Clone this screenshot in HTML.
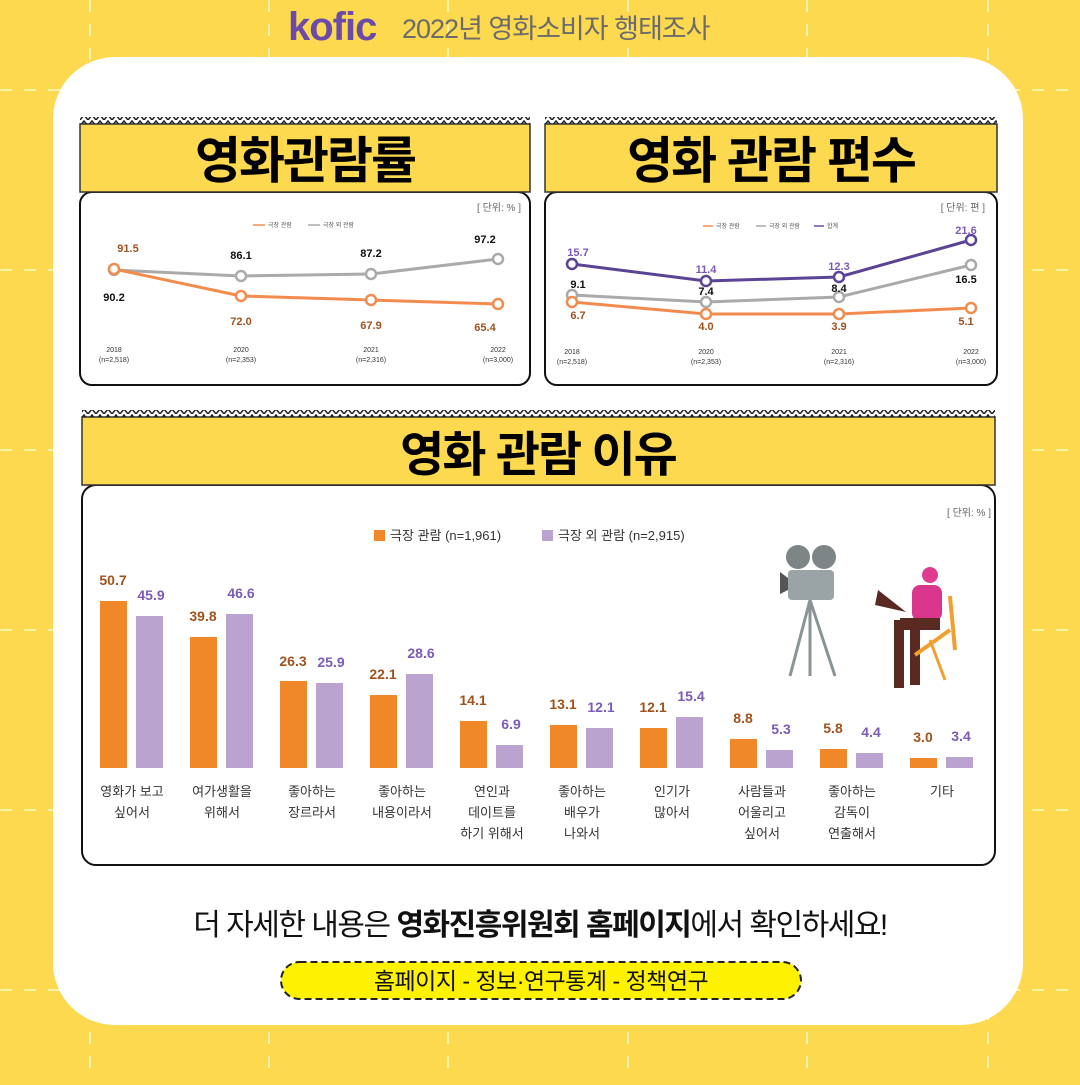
<!DOCTYPE html>
<html><head><meta charset="utf-8"><style>
html,body{margin:0;padding:0}
body{width:1080px;height:1080px;background:#FDD94F;overflow:hidden;font-family:"Liberation Sans","Noto Sans CJK KR",sans-serif}
svg text{font-family:"Liberation Sans","Noto Sans CJK KR",sans-serif}
</style></head><body>
<svg width="1080" height="1080" viewBox="0 0 1080 1080" xmlns="http://www.w3.org/2000/svg">
<defs>
<pattern id="zz" width="8" height="6" patternUnits="userSpaceOnUse"><path d="M0 6 L4 1 L8 6" fill="none" stroke="#222" stroke-width="1.5"/></pattern>
</defs>
<rect width="1080" height="1080" fill="#FDD94F"/>
<g stroke="#FFF3A8" stroke-width="2" stroke-dasharray="12 12">
<line x1="90" y1="0" x2="90" y2="1080"/><line x1="269" y1="0" x2="269" y2="1080"/><line x1="448" y1="0" x2="448" y2="1080"/><line x1="628" y1="0" x2="628" y2="1080"/><line x1="807" y1="0" x2="807" y2="1080"/><line x1="988" y1="0" x2="988" y2="1080"/>
<line x1="0" y1="90" x2="1080" y2="90"/><line x1="0" y1="270" x2="1080" y2="270"/><line x1="0" y1="450" x2="1080" y2="450"/><line x1="0" y1="630" x2="1080" y2="630"/><line x1="0" y1="810" x2="1080" y2="810"/><line x1="0" y1="990" x2="1080" y2="990"/>
</g>
<rect x="53" y="57" width="970" height="968" rx="62" fill="#fff"/>
<text x="288" y="40" font-size="40" font-weight="bold" fill="#6A4CA8" letter-spacing="-1">kofic</text>
<text x="402" y="38" font-size="27" fill="#6b6b6b" letter-spacing="-1">2022년 영화소비자 행태조사</text>

<!-- Panel 1 -->
<rect x="80" y="192" width="450" height="193" rx="12" fill="#fff" stroke="#111" stroke-width="2"/>
<rect x="80" y="124" width="450" height="68" fill="#FDD94F" stroke="#333" stroke-width="1.5"/>
<rect x="80" y="117" width="450" height="7" fill="url(#zz)"/>
<text x="305" y="178" font-size="50" font-weight="bold" text-anchor="middle" fill="#000" letter-spacing="-2">영화관람률</text>
<text x="521" y="211" font-size="10" fill="#666" text-anchor="end">[ 단위: % ]</text>
<g font-size="6" fill="#555"><line x1="253" y1="225" x2="265" y2="225" stroke="#F28C4E" stroke-width="1.5"/><text x="268" y="227">극장 관람</text><line x1="308" y1="225" x2="320" y2="225" stroke="#aaa" stroke-width="1.5"/><text x="323" y="227">극장 외 관람</text></g>
<polyline points="114,270 241,276 371,274 498,259" fill="none" stroke="#aaa" stroke-width="3"/>
<polyline points="114,269 241,296 371,300 498,304" fill="none" stroke="#F28C4E" stroke-width="3"/>
<g fill="#fff" stroke-width="2.5"><circle cx="114" cy="270" r="5" stroke="#aaa"/><circle cx="241" cy="276" r="5" stroke="#aaa"/><circle cx="371" cy="274" r="5" stroke="#aaa"/><circle cx="498" cy="259" r="5" stroke="#aaa"/>
<circle cx="114" cy="269" r="5" stroke="#F28C4E"/><circle cx="241" cy="296" r="5" stroke="#F28C4E"/><circle cx="371" cy="300" r="5" stroke="#F28C4E"/><circle cx="498" cy="304" r="5" stroke="#F28C4E"/></g>
<g font-size="11" font-weight="bold" text-anchor="middle">
<text x="128" y="252" fill="#A0521D">91.5</text><text x="114" y="301" fill="#111">90.2</text>
<text x="241" y="259" fill="#111">86.1</text><text x="241" y="325" fill="#A0521D">72.0</text>
<text x="371" y="257" fill="#111">87.2</text><text x="371" y="329" fill="#A0521D">67.9</text>
<text x="485" y="243" fill="#111">97.2</text><text x="485" y="331" fill="#A0521D">65.4</text></g>
<g font-size="7" fill="#333" text-anchor="middle"><text x="114" y="352">2018</text><text x="114" y="362">(n=2,518)</text><text x="241" y="352">2020</text><text x="241" y="362">(n=2,353)</text><text x="371" y="352">2021</text><text x="371" y="362">(n=2,316)</text><text x="498" y="352">2022</text><text x="498" y="362">(n=3,000)</text></g>

<!-- Panel 2 -->
<rect x="545" y="192" width="452" height="193" rx="12" fill="#fff" stroke="#111" stroke-width="2"/>
<rect x="545" y="124" width="452" height="68" fill="#FDD94F" stroke="#333" stroke-width="1.5"/>
<rect x="545" y="117" width="452" height="7" fill="url(#zz)"/>
<text x="771" y="178" font-size="50" font-weight="bold" text-anchor="middle" fill="#000" letter-spacing="-2">영화 관람 편수</text>
<text x="985" y="211" font-size="10" fill="#666" text-anchor="end">[ 단위: 편 ]</text>
<g font-size="6" fill="#555"><line x1="703" y1="226" x2="713" y2="226" stroke="#F28C4E" stroke-width="1.5"/><text x="716" y="228">극장 관람</text><line x1="756" y1="226" x2="766" y2="226" stroke="#aaa" stroke-width="1.5"/><text x="769" y="228">극장 외 관람</text><line x1="814" y1="226" x2="824" y2="226" stroke="#6A4CA8" stroke-width="1.5"/><text x="827" y="228">합계</text></g>
<polyline points="572,264 706,281 839,277 971,240" fill="none" stroke="#5B4495" stroke-width="3"/>
<polyline points="572,295 706,302 839,297 971,265" fill="none" stroke="#aaa" stroke-width="3"/>
<polyline points="572,302 706,314 839,314 971,308" fill="none" stroke="#F28C4E" stroke-width="3"/>
<g fill="#fff" stroke-width="2.5"><circle cx="572" cy="264" r="5" stroke="#5B4495"/><circle cx="706" cy="281" r="5" stroke="#5B4495"/><circle cx="839" cy="277" r="5" stroke="#5B4495"/><circle cx="971" cy="240" r="5" stroke="#5B4495"/>
<circle cx="572" cy="295" r="5" stroke="#aaa"/><circle cx="706" cy="302" r="5" stroke="#aaa"/><circle cx="839" cy="297" r="5" stroke="#aaa"/><circle cx="971" cy="265" r="5" stroke="#aaa"/>
<circle cx="572" cy="302" r="5" stroke="#F28C4E"/><circle cx="706" cy="314" r="5" stroke="#F28C4E"/><circle cx="839" cy="314" r="5" stroke="#F28C4E"/><circle cx="971" cy="308" r="5" stroke="#F28C4E"/></g>
<g font-size="11" font-weight="bold" text-anchor="middle">
<text x="578" y="256" fill="#7B5BB6">15.7</text><text x="578" y="288" fill="#111">9.1</text><text x="578" y="319" fill="#A0521D">6.7</text>
<text x="706" y="273" fill="#7B5BB6">11.4</text><text x="706" y="295" fill="#111">7.4</text><text x="706" y="330" fill="#A0521D">4.0</text>
<text x="839" y="270" fill="#7B5BB6">12.3</text><text x="839" y="292" fill="#111">8.4</text><text x="839" y="330" fill="#A0521D">3.9</text>
<text x="966" y="234" fill="#7B5BB6">21.6</text><text x="966" y="283" fill="#111">16.5</text><text x="966" y="325" fill="#A0521D">5.1</text></g>
<g font-size="7" fill="#333" text-anchor="middle"><text x="572" y="354">2018</text><text x="572" y="364">(n=2,518)</text><text x="706" y="354">2020</text><text x="706" y="364">(n=2,353)</text><text x="839" y="354">2021</text><text x="839" y="364">(n=2,316)</text><text x="971" y="354">2022</text><text x="971" y="364">(n=3,000)</text></g>

<!-- Panel 3 -->
<rect x="82" y="485" width="913" height="380" rx="14" fill="#fff" stroke="#111" stroke-width="2"/>
<rect x="82" y="417" width="913" height="68" fill="#FDD94F" stroke="#333" stroke-width="1.5"/>
<rect x="82" y="410" width="913" height="7" fill="url(#zz)"/>
<text x="538" y="471" font-size="48" font-weight="bold" text-anchor="middle" fill="#000" letter-spacing="-2">영화 관람 이유</text>
<text x="991" y="516" font-size="10" fill="#666" text-anchor="end">[ 단위: % ]</text>
<rect x="374" y="530" width="11" height="11" fill="#F0882A"/><text x="390" y="540" font-size="13" fill="#333">극장 관람 (n=1,961)</text>
<rect x="542" y="530" width="11" height="11" fill="#BBA3D0"/><text x="558" y="540" font-size="13" fill="#333">극장 외 관람 (n=2,915)</text>
<g id="bars"></g>
<g fill="#F0882A">
<rect x="100" y="601" width="27" height="167"/><rect x="190" y="637" width="27" height="131"/><rect x="280" y="681" width="27" height="87"/><rect x="370" y="695" width="27" height="73"/><rect x="460" y="721" width="27" height="47"/><rect x="550" y="725" width="27" height="43"/><rect x="640" y="728" width="27" height="40"/><rect x="730" y="739" width="27" height="29"/><rect x="820" y="749" width="27" height="19"/><rect x="910" y="758" width="27" height="10"/></g>
<g fill="#BBA3D0">
<rect x="136" y="616" width="27" height="152"/><rect x="226" y="614" width="27" height="154"/><rect x="316" y="683" width="27" height="85"/><rect x="406" y="674" width="27" height="94"/><rect x="496" y="745" width="27" height="23"/><rect x="586" y="728" width="27" height="40"/><rect x="676" y="717" width="27" height="51"/><rect x="766" y="750" width="27" height="18"/><rect x="856" y="753" width="27" height="15"/><rect x="946" y="757" width="27" height="11"/></g>
<g font-size="14" font-weight="bold" text-anchor="middle" fill="#A0521D">
<text x="113" y="585">50.7</text><text x="203" y="621">39.8</text><text x="293" y="666">26.3</text><text x="383" y="679">22.1</text><text x="473" y="705">14.1</text><text x="563" y="709">13.1</text><text x="653" y="712">12.1</text><text x="743" y="723">8.8</text><text x="833" y="733">5.8</text><text x="923" y="742">3.0</text></g>
<g font-size="14" font-weight="bold" text-anchor="middle" fill="#7B5BB6">
<text x="151" y="600">45.9</text><text x="241" y="598">46.6</text><text x="331" y="667">25.9</text><text x="421" y="658">28.6</text><text x="511" y="729">6.9</text><text x="601" y="712">12.1</text><text x="691" y="701">15.4</text><text x="781" y="734">5.3</text><text x="871" y="737">4.4</text><text x="961" y="741">3.4</text></g>
<g font-size="13" text-anchor="middle" fill="#333">
<text x="132" y="796">영화가 보고</text><text x="132" y="817">싶어서</text>
<text x="222" y="796">여가생활을</text><text x="222" y="817">위해서</text>
<text x="312" y="796">좋아하는</text><text x="312" y="817">장르라서</text>
<text x="402" y="796">좋아하는</text><text x="402" y="817">내용이라서</text>
<text x="492" y="796">연인과</text><text x="492" y="817">데이트를</text><text x="492" y="838">하기 위해서</text>
<text x="582" y="796">좋아하는</text><text x="582" y="817">배우가</text><text x="582" y="838">나와서</text>
<text x="672" y="796">인기가</text><text x="672" y="817">많아서</text>
<text x="762" y="796">사람들과</text><text x="762" y="817">어울리고</text><text x="762" y="838">싶어서</text>
<text x="852" y="796">좋아하는</text><text x="852" y="817">감독이</text><text x="852" y="838">연출해서</text>
<text x="942" y="796">기타</text></g>

<!-- illustration -->
<g>
<line x1="810" y1="600" x2="790" y2="676" stroke="#8a9496" stroke-width="3"/><line x1="810" y1="600" x2="810" y2="676" stroke="#8a9496" stroke-width="3"/><line x1="810" y1="600" x2="835" y2="676" stroke="#8a9496" stroke-width="3"/>
<circle cx="798" cy="557" r="12" fill="#7d8587"/><circle cx="824" cy="557" r="12" fill="#7d8587"/>
<rect x="788" y="570" width="46" height="30" rx="4" fill="#9aa3a5"/><polygon points="788,578 780,572 780,594 788,590" fill="#555"/>
</g>
<g>
<polygon points="906,612 878,590 875,605" fill="#5a2a22"/>
<circle cx="930" cy="575" r="8" fill="#E03C8F"/><rect x="912" y="585" width="30" height="36" rx="8" fill="#D9368C"/>
<rect x="900" y="618" width="40" height="12" fill="#5a2a22"/><rect x="894" y="620" width="10" height="68" fill="#5a2a22"/><rect x="910" y="625" width="10" height="60" fill="#5a2a22"/>
<line x1="950" y1="596" x2="955" y2="650" stroke="#F0A030" stroke-width="4"/><line x1="915" y1="655" x2="950" y2="630" stroke="#F0A030" stroke-width="4"/><line x1="930" y1="640" x2="945" y2="680" stroke="#F0A030" stroke-width="3"/>
</g>

<text x="540" y="935" font-size="30" text-anchor="middle" fill="#111" letter-spacing="-1.5">더 자세한 내용은 <tspan font-weight="bold">영화진흥위원회 홈페이지</tspan>에서 확인하세요!</text>
<rect x="281" y="962" width="520" height="37" rx="18.5" fill="#FFF200" stroke="#222" stroke-width="2" stroke-dasharray="7 4"/>
<text x="541" y="989" font-size="23" text-anchor="middle" fill="#111" letter-spacing="-0.5">홈페이지 - 정보·연구통계 - 정책연구</text>
</svg>
</body></html>
